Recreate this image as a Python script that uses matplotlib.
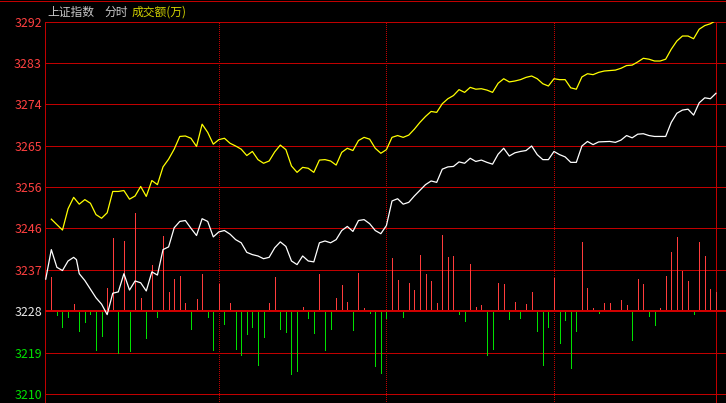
import numpy as np
import matplotlib
matplotlib.use("Agg")
import matplotlib.pyplot as plt
from matplotlib.lines import Line2D

# ---------------- data ----------------
PREV_CLOSE = 3228.25
STEP = 9.1
TICK_LABELS = ["3210", "3219", "3228", "3237", "3246", "3256", "3265", "3274", "3283", "3292"]
LEVELS_K = [-2, -1, 0, 1, 2, 3, 4, 5, 6, 7]

# yellow line, one value every 2 minutes (minute 0 .. 238)
YELLOW_VALUES = [
    3248.5, 3247.3, 3246.1, 3250.8, 3253.3, 3251.8, 3252.8, 3252.0, 3249.5, 3248.7,
    3249.9, 3254.6, 3254.6, 3254.8, 3252.9, 3253.6, 3255.7, 3253.5, 3257.0, 3256.1,
    3260.0, 3261.7, 3263.9, 3266.7, 3266.8, 3266.3, 3264.5, 3269.4, 3267.6, 3265.0,
    3266.0, 3266.3, 3265.2, 3264.6, 3263.9, 3262.5, 3263.4, 3261.6, 3260.8, 3261.3,
    3263.3, 3264.8, 3263.8, 3260.2, 3258.8, 3259.9, 3259.7, 3258.8, 3261.5, 3261.6,
    3261.3, 3260.4, 3263.2, 3264.1, 3263.6, 3265.8, 3266.5, 3266.1, 3264.1, 3263.0,
    3263.8, 3266.5, 3266.9, 3266.5, 3267.0, 3268.3, 3269.8, 3271.1, 3272.2, 3272.0,
    3273.9, 3275.0, 3275.7, 3277.0, 3276.4, 3277.5, 3277.1, 3277.2, 3276.9, 3276.4,
    3278.4, 3279.4, 3278.7, 3278.9, 3279.2, 3279.7, 3280.0, 3279.4, 3278.3, 3277.8,
    3279.4, 3279.2, 3279.2, 3277.4, 3277.1, 3279.8, 3280.5, 3280.3, 3280.8, 3281.1,
    3281.2, 3281.3, 3281.7, 3282.3, 3282.4, 3283.1, 3283.9, 3283.7, 3283.3, 3283.3,
    3283.7, 3285.9, 3287.7, 3288.8, 3288.8, 3288.2, 3290.3, 3291.1, 3291.5, 3292.2,
]

# white line vertices (minute, value)
WHITE_MINUTES = [
    -2, 0, 2, 4, 6, 8, 9, 10, 12, 16, 18, 20, 22, 24, 26, 28, 30, 32, 34, 36,
    38, 40, 42, 44, 46, 48, 50, 52, 54, 56, 58, 60, 62, 64, 66, 68, 70, 72, 74, 76,
    78, 80, 82, 84, 86, 88, 90, 92, 94, 96, 98, 100, 102, 104, 106, 108, 110, 112, 114, 116,
    118, 120, 122, 124, 126, 128, 130, 134, 136, 138, 140, 142, 144, 146, 148, 150, 152, 154, 156, 158,
    160, 162, 164, 166, 168, 170, 172, 174, 176, 178, 180, 182, 184, 186, 188, 190, 192, 194, 196, 200,
    202, 204, 206, 208, 210, 212, 214, 216, 220, 222, 224, 226, 228, 230, 232, 234, 236, 238,
]
WHITE_VALUES = [
    3235.3, 3241.8, 3237.9, 3237.2, 3239.3, 3240.1, 3239.6, 3236.5, 3235.0, 3231.2,
    3229.8, 3227.5, 3232.2, 3232.5, 3236.5, 3232.9, 3234.9, 3234.5, 3232.7, 3236.9,
    3236.2, 3241.8, 3242.4, 3246.6, 3248.0, 3248.2, 3246.5, 3244.9, 3248.6, 3248.0,
    3244.6, 3245.7, 3246.0, 3245.2, 3244.0, 3243.3, 3241.2, 3240.7, 3240.4, 3239.8,
    3240.1, 3242.2, 3243.5, 3242.5, 3239.3, 3238.5, 3240.4, 3239.3, 3239.1, 3243.3,
    3243.7, 3243.3, 3244.0, 3246.0, 3246.9, 3245.8, 3248.2, 3248.4, 3247.5, 3246.0,
    3245.3, 3247.1, 3252.5, 3253.0, 3251.8, 3252.2, 3253.6, 3256.1, 3256.9, 3256.6,
    3259.5, 3260.0, 3260.1, 3261.1, 3260.8, 3261.9, 3261.2, 3261.5, 3261.0, 3260.6,
    3262.8, 3264.1, 3262.4, 3263.1, 3263.4, 3263.6, 3264.6, 3262.7, 3261.6, 3261.6,
    3263.4, 3262.7, 3262.2, 3261.0, 3261.0, 3264.6, 3265.6, 3264.9, 3265.5, 3265.6,
    3265.4, 3265.9, 3266.9, 3266.4, 3267.2, 3267.3, 3266.9, 3266.7, 3266.7, 3269.8,
    3271.8, 3272.5, 3272.7, 3271.4, 3274.1, 3275.2, 3275.0, 3276.2,
]

# signed bars around the previous close, one every 2 minutes
BAR_VALUES = [
    7.5, -0.9, -3.5, -1.3, 1.5, -4.4, -2.4, -0.7, -8.6, -5.5,
    5.2, 16.1, -9.1, 15.4, -8.8, 21.6, 2.8, -6.0, 10.1, -1.3,
    16.5, 4.3, 7.0, 7.7, 1.9, -4.0, 2.6, 8.1, -1.3, -8.6,
    5.9, -2.9, 1.9, -8.4, -9.7, -5.1, -3.5, -11.9, -5.7, 1.9,
    7.5, -4.0, -4.6, -13.9, -13.2, 1.0, -1.5, -4.9, 8.1, -8.6,
    -4.0, 2.8, 5.7, 2.1, -4.2, 8.3, 0.8, -0.4, -12.1, -13.7,
    -1.5, 11.6, 6.8, -1.3, 6.3, 4.6, 12.3, 8.1, 6.6, 1.7,
    16.7, 11.9, 12.1, -0.7, -2.2, 10.3, 1.0, 1.3, -9.7, -8.4,
    6.3, 5.9, -1.8, 2.1, -1.5, 1.5, 4.3, -4.4, -11.9, -3.5,
    7.2, -7.1, -2.0, -12.6, -4.4, 15.2, 5.0, 0.6, -0.4, 1.9,
    1.9, 0.0, 2.4, 1.3, -6.4, 7.0, 5.9, -1.1, -3.1, 0.6,
    7.7, 13.0, 16.3, 8.8, 6.6, -0.7, 15.2, 12.1, 4.8, 4.3,
]

HOUR_MARKS = [60, 120, 180]
LAST_MINUTE = 238

# ---------------- style ----------------
GRID_RED = "#c00000"
BAR_RED = "#ff3c3c"
BAR_GREEN = "#00e000"
LABEL_RED = "#ff4040"
LABEL_GREEN = "#00e000"
PX = 0.72  # one pixel in points at 100 dpi

W, H = 726, 403
fig = plt.figure(figsize=(W / 100, H / 100), dpi=100, facecolor="black")
top_px = 21.7
ax = fig.add_axes([45 / W, 0, 1 - 45 / W, (H - top_px) / H])
ax.set_facecolor("black")
ax.set_xlim(-2.26, 241.6)
ax.set_ylim(PREV_CLOSE - 2.22 * STEP, PREV_CLOSE + 7 * STEP)

levels = [PREV_CLOSE + k * STEP for k in LEVELS_K]
for k, lv in zip(LEVELS_K, levels):
    if k == 0:
        continue
    ax.axhline(lv, color=GRID_RED, lw=PX, zorder=1, antialiased=False)

for m in HOUR_MARKS:
    ax.axvline(m, color=GRID_RED, lw=PX, ls=(0, (1, 2)), zorder=1, antialiased=False)
ax.axvline(LAST_MINUTE, color=GRID_RED, lw=PX, zorder=1, antialiased=False)

bar_minutes = np.arange(len(BAR_VALUES)) * 2
bar_vals = np.array(BAR_VALUES)
colors = [BAR_RED if v > 0 else BAR_GREEN for v in bar_vals]
ax.vlines(bar_minutes, PREV_CLOSE, PREV_CLOSE + bar_vals, colors=colors,
          lw=PX, zorder=2, antialiased=False)

ax.axhline(PREV_CLOSE, color="#d00000", lw=2 * PX, zorder=3, antialiased=False)

yellow_minutes = np.arange(len(YELLOW_VALUES)) * 2
ax.plot(yellow_minutes, YELLOW_VALUES, color="#ffff00", lw=0.9, zorder=4)
ax.plot(WHITE_MINUTES, WHITE_VALUES, color="#ffffff", lw=0.9, zorder=4)

# axes frame
for s in ["right", "bottom"]:
    ax.spines[s].set_visible(False)
for s in ["left", "top"]:
    ax.spines[s].set_color(GRID_RED)
    ax.spines[s].set_linewidth(PX)
    ax.spines[s].set_antialiased(False)

ax.set_xticks([])
ax.set_yticks(levels)
ax.set_yticklabels(TICK_LABELS, family=["Noto Sans CJK SC", "DejaVu Sans"], fontsize=8.9)
ax.tick_params(axis="y", length=0, pad=2.2)
for k, lbl in zip(LEVELS_K, ax.get_yticklabels()):
    lbl.set_color(LABEL_RED if k > 0 else ("#e8e8e8" if k == 0 else LABEL_GREEN))

# top border line of the whole panel
fig.add_artist(Line2D([0, 1], [1 - 0.6 / H, 1 - 0.6 / H], transform=fig.transFigure,
                      color=GRID_RED, lw=PX, antialiased=False))

# title
ty = 1 - 12 / H
fam = ["Noto Sans CJK SC", "DejaVu Sans"]
fig.text(47 / W, ty, "上证指数", color="#c8c8c8", fontsize=8.5, family=fam, va="center", ha="left")
fig.text(104 / W, ty, "分时", color="#c8c8c8", fontsize=8.5, family=fam, va="center", ha="left")
fig.text(132 / W, ty, "成交额(万)", color="#d2d200", fontsize=8.5, family=fam, va="center", ha="left")

fig.savefig("out.png", dpi=100, facecolor="black")
